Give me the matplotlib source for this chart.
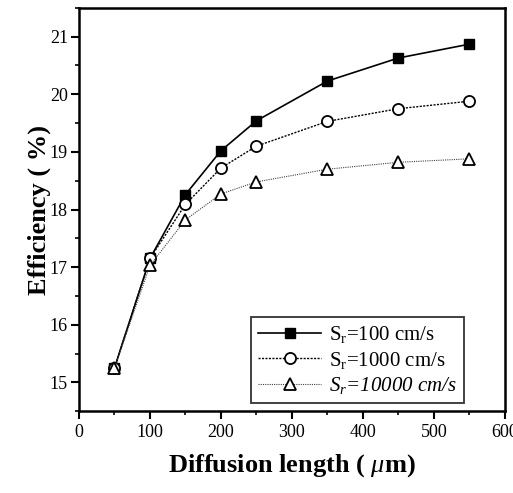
import matplotlib
matplotlib.use("Agg")
import matplotlib.pyplot as plt
from matplotlib.ticker import MultipleLocator

length = [50, 100, 150, 200, 250, 350, 450, 550]
eff_100 = [15.25, 17.15, 18.26, 19.02, 19.54, 20.23, 20.63, 20.87]
eff_1000 = [15.25, 17.15, 18.09, 18.72, 19.10, 19.53, 19.75, 19.88]
eff_10000 = [15.25, 17.03, 17.82, 18.27, 18.48, 18.70, 18.82, 18.88]
labels = [r"S$_\mathregular{r}$=100 cm/s", r"S$_\mathregular{r}$=1000 cm/s",
          r"S$_\mathregular{r}$=10000 cm/s"]

plt.rcParams['font.family'] = 'Liberation Serif'
plt.rcParams['mathtext.fontset'] = 'custom'
plt.rcParams['mathtext.rm'] = 'Liberation Serif'
plt.rcParams['mathtext.it'] = 'Liberation Serif:italic'

fig = plt.figure(figsize=(5.13, 4.93), dpi=100)
ax = fig.add_axes([0.154, 0.166, 0.830, 0.818])

ax.plot(length, eff_100, '-', color='black', lw=1.2, marker='s', ms=7,
        mfc='black', mec='black', label=labels[0])
ax.plot(length, eff_1000, linestyle=(0, (1.5, 1)), color='black', lw=1.0, marker='o', ms=8,
        mfc='white', mec='black', mew=1.3, label=labels[1])
ax.plot(length, eff_10000, linestyle=(0, (1, 1)), color='#444444', lw=0.8, marker='^', ms=8,
        mfc='white', mec='black', mew=1.3, label=labels[2])

ax.set_xlim(0, 600)
ax.set_ylim(14.5, 21.5)
ax.xaxis.set_major_locator(MultipleLocator(100))
ax.xaxis.set_minor_locator(MultipleLocator(50))
ax.yaxis.set_major_locator(MultipleLocator(1))
ax.yaxis.set_minor_locator(MultipleLocator(0.5))
ax.tick_params(which='major', direction='out', length=6, width=1.5, labelsize=13)
ax.tick_params(axis='y', which='major', pad=2)
ax.tick_params(which='minor', direction='out', length=3, width=1.2)
for s in ax.spines.values():
    s.set_linewidth(1.8)

ax.set_xlabel(r"Diffusion length ( $\mu$m)", fontsize=19, fontweight='bold', labelpad=8)
ax.set_ylabel("Efficiency ( %)", fontsize=19, fontweight='bold', labelpad=-1)

leg = ax.legend(loc='lower right', bbox_to_anchor=(0.905, 0.02), fontsize=15, frameon=True,
                fancybox=False, edgecolor='black', handlelength=3.0, handletextpad=0.4,
                borderpad=0.35, labelspacing=0.2, borderaxespad=0)
leg.get_frame().set_linewidth(1.3)
leg.get_texts()[2].set_fontstyle('italic')

fig.savefig("out.png", dpi=100)
